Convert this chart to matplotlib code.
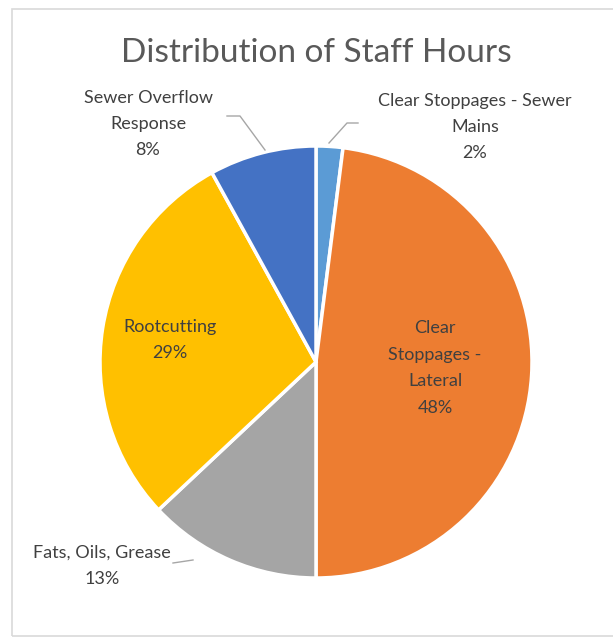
import numpy as np
import matplotlib.pyplot as plt
from matplotlib.patches import Rectangle

# Data
categories = ["Clear Stoppages - Sewer Mains", "Clear Stoppages - Lateral",
              "Fats, Oils, Grease", "Rootcutting", "Sewer Overflow Response"]
shares = [2, 48, 13, 29, 8]
label_texts = ["Clear Stoppages - Sewer\nMains", "Clear\nStoppages -\nLateral",
               "Fats, Oils, Grease", "Rootcutting", "Sewer Overflow\nResponse"]
colors = ["#5B9BD5", "#ED7D31", "#A5A5A5", "#FFC000", "#4472C4"]

W, H = 613, 639
plt.rcParams['font.family'] = ['Lato', 'DejaVu Sans']

fig = plt.figure(figsize=(W / 100, H / 100), dpi=100)
ax = fig.add_axes([0, 0, 1, 1])

cx, cy, r = 316, H - 362, 216
wedges, _ = ax.pie(shares, colors=colors, startangle=90, counterclock=False,
                   center=(cx, cy), radius=r, frame=True,
                   wedgeprops=dict(edgecolor="white", linewidth=2.5))
ax.set_xlim(0, W)
ax.set_ylim(0, H)
ax.set_aspect('equal')
ax.axis('off')

# chart border (right side runs off the image)
ax.add_patch(Rectangle((12, 3), W + 20, H - 12, fill=False, edgecolor="#D9D9D9",
                       lw=1.2, clip_on=False))

ax.text(W / 2 + 10, H - 53, "Distribution of Staff Hours", ha="center", va="center",
        fontsize=24, color="#595959")

# label positions (pixel coords, y from top) and leader lines
label_pos = [(475, 127), (435, 368), (102, 566), (170, 340), (148, 124)]
leaders = {0: [(329, 143), (347, 123), (358, 123)],
           2: [(173, 563), (193, 560)],
           4: [(265, 150), (240, 116), (227, 116)]}

for i, (txt, s) in enumerate(zip(label_texts, shares)):
    x, y = label_pos[i]
    ax.text(x, H - y, f"{txt}\n{s}%", ha="center", va="center", fontsize=13,
            color="#404040", linespacing=1.8)
    if i in leaders:
        pts = np.array(leaders[i], dtype=float)
        ax.plot(pts[:, 0], H - pts[:, 1], color="#A6A6A6", lw=1)

fig.savefig("out.png", dpi=100)
